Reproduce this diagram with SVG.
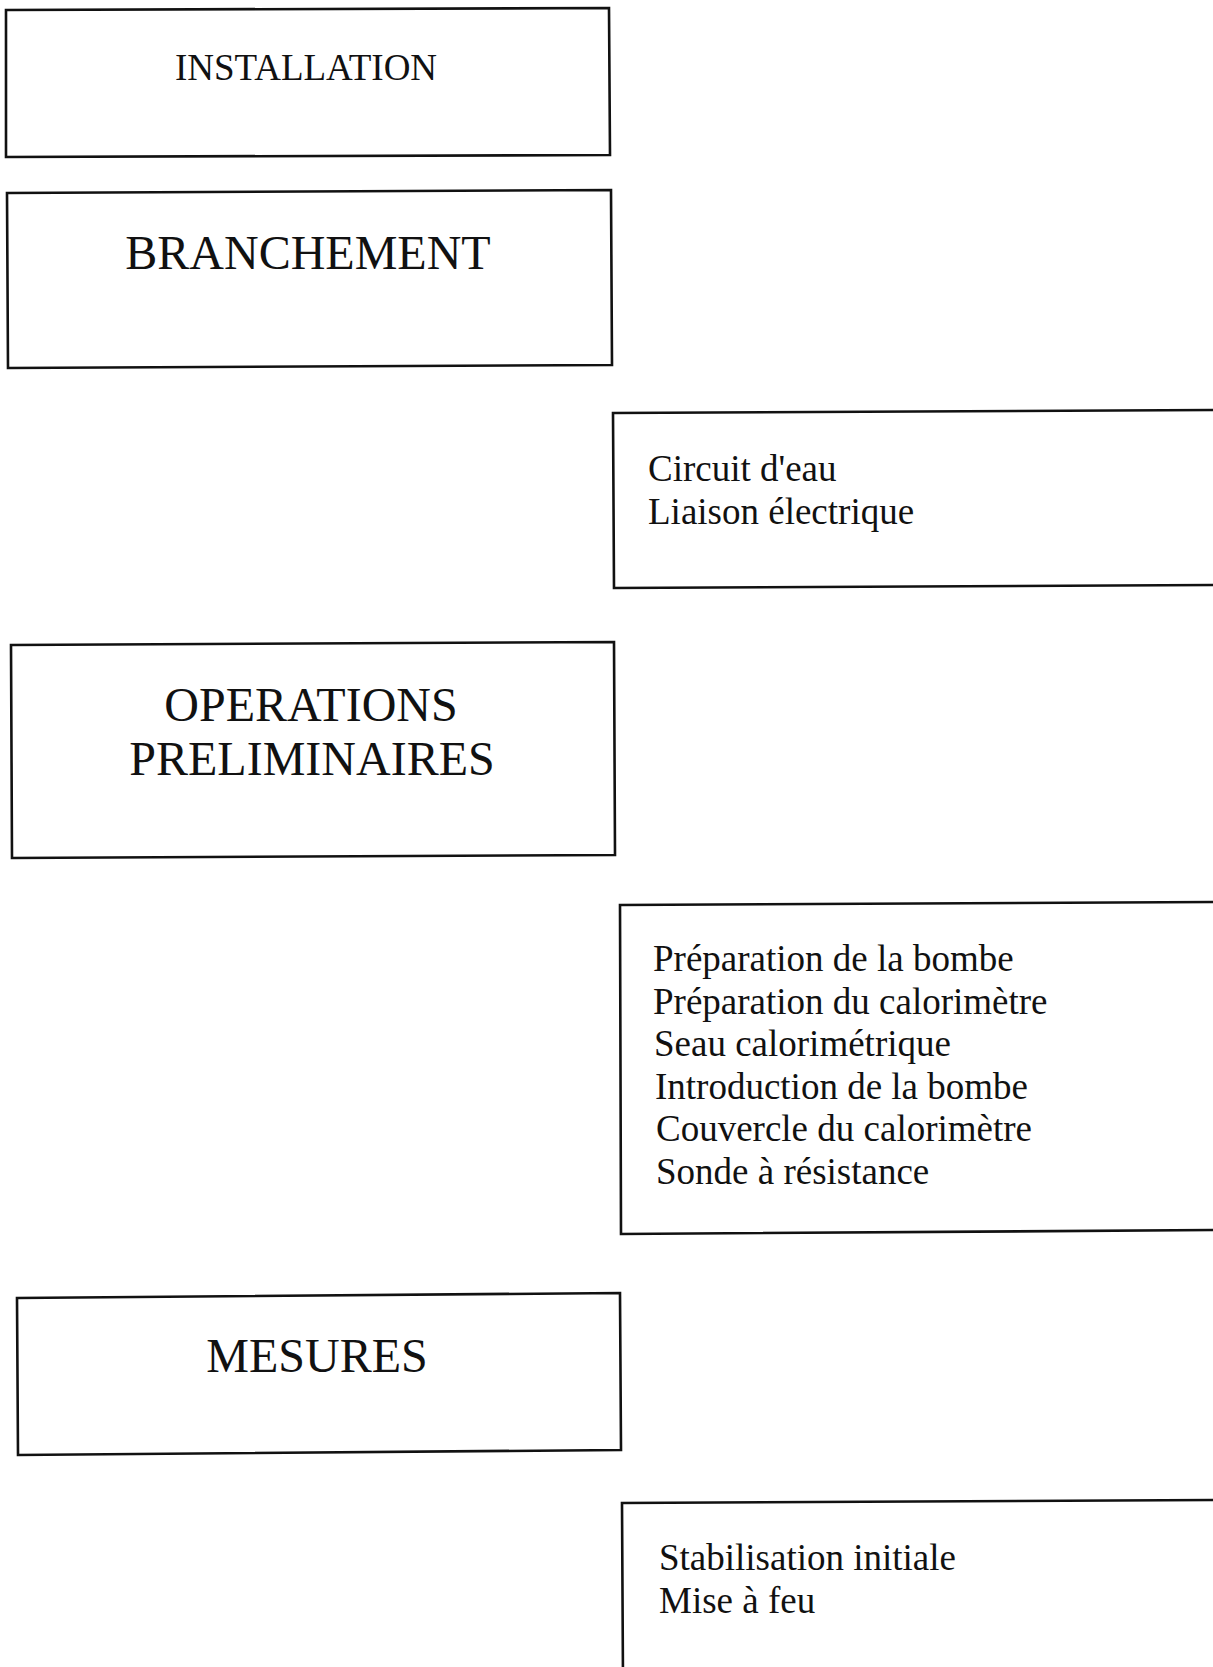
<svg xmlns="http://www.w3.org/2000/svg" width="1213" height="1667" viewBox="0 0 1213 1667">
<style>
.box{fill:none;stroke:#111;stroke-width:2.6;stroke-linejoin:miter}
.t{font-family:"Liberation Serif","Times New Roman",serif;fill:#111}
.h1{font-size:37px}
.h2{font-size:48px}
.l{font-size:37px}
</style>
<rect x="0" y="0" width="1213" height="1667" fill="#fff"/>
<g id="connectors"/>
<g id="installation">
<path class="box" d="M6,10 L609,8 L610,155 L6,157 Z"/>
<text class="t h1" x="306" y="80" text-anchor="middle">INSTALLATION</text>
</g>
<g id="branchement">
<path class="box" d="M7,193 L611,190 L612,365 L8,368 Z"/>
<text class="t h2" x="308" y="269" text-anchor="middle">BRANCHEMENT</text>
</g>
<g id="branchement-details">
<path class="box" d="M613,413 L1220,410 L1220,585 L614,588 Z"/>
<text class="t l" x="648" y="481">Circuit d'eau</text>
<text class="t l" x="648" y="524">Liaison électrique</text>
</g>
<g id="operations">
<path class="box" d="M11,645 L614,642 L615,855 L12,858 Z"/>
<text class="t h2" x="311" y="721" text-anchor="middle">OPERATIONS</text>
<text class="t h2" x="312" y="775" text-anchor="middle">PRELIMINAIRES</text>
</g>
<g id="operations-details">
<path class="box" d="M620,905 L1220,902 L1220,1230 L621,1234 Z"/>
<text class="t l" x="653" y="971">Préparation de la bombe</text>
<text class="t l" x="653" y="1014">Préparation du calorimètre</text>
<text class="t l" x="654" y="1056">Seau calorimétrique</text>
<text class="t l" x="655" y="1099">Introduction de la bombe</text>
<text class="t l" x="656" y="1141">Couvercle du calorimètre</text>
<text class="t l" x="656" y="1184">Sonde à résistance</text>
</g>
<g id="mesures">
<path class="box" d="M17,1298 L620,1293 L621,1450 L18,1455 Z"/>
<text class="t h2" x="317" y="1372" text-anchor="middle">MESURES</text>
</g>
<g id="mesures-details">
<path class="box" d="M623,1680 L622,1503 L1220,1500"/>
<text class="t l" x="659" y="1570">Stabilisation initiale</text>
<text class="t l" x="659" y="1613">Mise à feu</text>
</g>
</svg>
